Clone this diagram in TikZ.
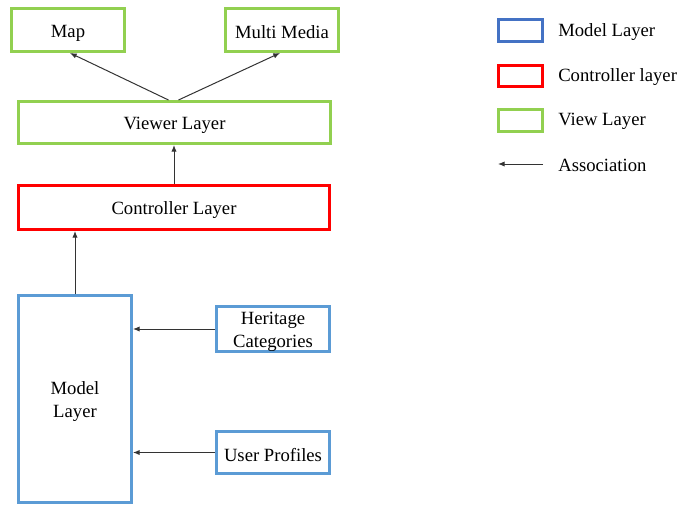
\documentclass[tikz,border=0pt]{standalone}
\usepackage{fontspec}
\setmainfont{Liberation Serif}
\usetikzlibrary{arrows.meta}
\definecolor{vgreen}{HTML}{92D050}
\definecolor{cred}{HTML}{FF0000}
\definecolor{mblue}{HTML}{5B9BD5}
\definecolor{lblue}{HTML}{4472C4}
\newcommand{\tstrut}{\rule{0pt}{13.5pt}}
\begin{document}
\begin{tikzpicture}[x=0.75pt,y=-0.75pt,
  box/.style={draw,line width=2.25pt,rectangle,inner sep=0pt,align=center,
    font=\fontsize{14}{17}\selectfont},
  vbox/.style={box,draw=vgreen},
  cbox/.style={box,draw=cred},
  mbox/.style={box,draw=mblue},
  arr/.style={draw=black!80,line width=0.75pt,-{Latex[length=5pt,width=4pt]}},
  lab/.style={anchor=west,inner sep=0pt,font=\fontsize{14}{17}\selectfont}]
\useasboundingbox (0,0) rectangle (678,504);
% view layer
\node[vbox,minimum width=84.75pt,minimum height=32.25pt] (map) at (68,30) {\tstrut Map};
\node[vbox,minimum width=84.75pt,minimum height=32.25pt] (mm) at (282,30) {\tstrut Multi Media};
\node[vbox,minimum width=234pt,minimum height=31.5pt] (viewer) at (174.5,122.5) {\tstrut Viewer Layer};
% controller
\node[cbox,minimum width=233.25pt,minimum height=33pt] (ctrl) at (174,207.5) {\tstrut Controller Layer};
% model
\node[mbox,minimum width=84.75pt,minimum height=155.25pt] (model) at (75,399) {\tstrut Model\\Layer};
\node[mbox,minimum width=84.75pt,minimum height=32.25pt] (herit) at (273,329) {\tstrut Heritage\\Categories};
\node[mbox,minimum width=84.75pt,minimum height=31.5pt] (user) at (273,452.5) {\tstrut User Profiles};
% connectors
\draw[arr] ([xshift=-4.5pt]viewer.north) -- ([xshift=1.5pt]map.south);
\draw[arr] ([xshift=3pt]viewer.north) -- ([xshift=-1.5pt]mm.south);
\draw[arr] (ctrl.north) -- (ctrl.north |- viewer.south);
\draw[arr] (model.north) -- (model.north |- ctrl.south);
\draw[arr] (herit.west) -- (herit.west -| model.east);
\draw[arr] (user.west) -- (user.west -| model.east);
% legend
\node[box,draw=lblue,minimum width=33pt,minimum height=16.5pt] (lm) at (520.5,30.5) {};
\node[cbox,minimum width=33pt,minimum height=16pt] (lc) at (520.5,76) {};
\node[vbox,minimum width=33pt,minimum height=16.5pt] (lv) at (520.5,120.5) {};
\coordinate (la) at (543,164);
\coordinate (lb) at (498,164);
\draw[arr] (la) -- (lb);
\node[lab] (tm) at (558,32) {Model Layer};
\node[lab] (tc) at (558,77) {Controller layer};
\node[lab] (tv) at (558,121) {View Layer};
\node[lab] (ta) at (558,165) {Association};
\end{tikzpicture}
\end{document}
